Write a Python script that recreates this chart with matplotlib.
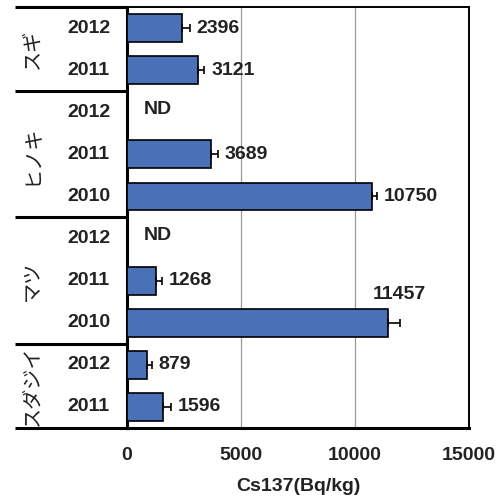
import numpy as np
import matplotlib
matplotlib.use("Agg")
import matplotlib.pyplot as plt
import matplotlib.transforms as mtransforms

plt.rcParams['font.family'] = ['Liberation Sans', 'DejaVu Sans']

# tree species, years and Cs137 concentrations (None = not detected)
species = ['スギ', 'ヒノキ', 'マツ', 'スダジイ']
years = [['2012', '2011'],
         ['2012', '2011', '2010'],
         ['2012', '2011', '2010'],
         ['2012', '2011']]
values = [[2396, 3121],
          [None, 3689, 10750],
          [None, 1268, 11457],
          [879, 1596]]
errors = [[350, 260],
          [None, 300, 220],
          [None, 260, 500],
          [200, 330]]

W, H = 501, 497
fig = plt.figure(figsize=(W / 100, H / 100), dpi=100)
left, right, top, bottom = 127, 469, 7, 428
ax = fig.add_axes([left / W, 1 - bottom / H, (right - left) / W, (bottom - top) / H])

bar_color = '#4a70b8'
bold = dict(fontweight='bold', fontsize=14, color='#222222')

row = 0
group_bounds = [-0.5]
ylab_tr = mtransforms.blended_transform_factory(fig.transFigure, ax.transData)
for sp, yrs, vals, errs in zip(species, years, values, errors):
    start = row
    for yr, v, e in zip(yrs, vals, errs):
        ax.text(110 / W, row, yr, transform=ylab_tr, ha='right', va='center', **bold)
        if v is None:
            ax.annotate('ND', (0, row), xytext=(12, 2), textcoords='offset points',
                        ha='left', va='center', **bold)
        else:
            ax.barh(row, v, height=0.66, color=bar_color, edgecolor='black', linewidth=1.2, zorder=3)
            ax.errorbar(v, row, xerr=[[0], [e]], fmt='none', ecolor='black',
                        elinewidth=1.2, capsize=3, capthick=1.2, zorder=4)
            if v > 11000:
                ax.annotate(str(v), (v + e, row), xytext=(0, 14), textcoords='offset points',
                            ha='center', va='bottom', **bold)
            else:
                ax.annotate(str(v), (v + e, row), xytext=(5, 0), textcoords='offset points',
                            ha='left', va='center', **bold)
        row += 1
    # vertical species name centred on its block of rows
    ax.text(32 / W, (start + row - 1) / 2, sp, transform=ylab_tr,
            rotation=90, ha='center', va='center', fontsize=14.5, color='#222222',
            family=['Noto Sans CJK JP', 'DejaVu Sans'])
    group_bounds.append(row - 0.5)

ax.set_xlim(0, 15000)
ax.set_ylim(row - 0.5, -0.5)
ax.set_yticks([])
ax.set_xticks([0, 5000, 10000, 15000])
ax.set_xticklabels(['0', '5000', '10000', '15000'], **bold)
ax.tick_params(axis='x', length=0, pad=14)
ax.set_xlabel('Cs137(Bq/kg)', labelpad=10, **bold)

for x in (5000, 10000):
    ax.axvline(x, color='#a39791', linewidth=0.9, zorder=1)

# separators between species, running into the label column
for yb in group_bounds:
    ax.plot([15 / W, left / W], [yb, yb], color='black', linewidth=2.2,
            transform=ylab_tr, clip_on=False, solid_capstyle='butt')

for side in ('top', 'right'):
    ax.spines[side].set_linewidth(1.4)
for side in ('left', 'bottom'):
    ax.spines[side].set_linewidth(2.2)

fig.savefig('out.png', dpi=100)
